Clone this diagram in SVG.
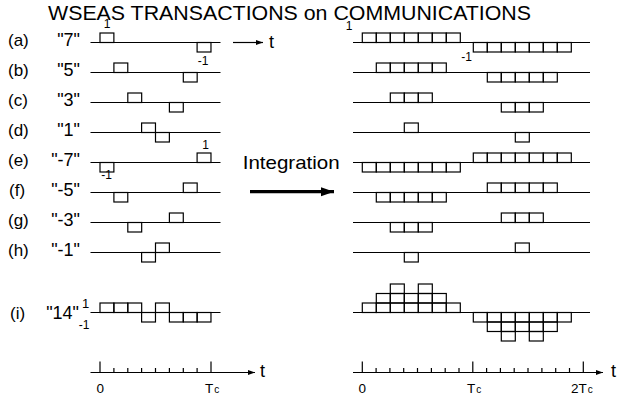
<svg xmlns="http://www.w3.org/2000/svg" xmlns:xlink="http://www.w3.org/1999/xlink" width="618" height="402" viewBox="0 0 618 402">
  <style>
    text { font-family: "Liberation Sans", Arial, sans-serif; fill: #000; }
    .title { font-size: 20px; }
    .lab { font-size: 17px; }
    .code { font-size: 18px; }
    .small { font-size: 12px; }
    .axl { font-size: 13.5px; }
    .sub { font-size: 10px; }
    .tt { font-size: 18px; }
    .line { stroke: #000; stroke-width: 1.2; fill: none; }
    .chip { fill: none; stroke: #000; stroke-width: 1.2; }
    .thick { stroke: #000; stroke-width: 3.3; fill: none; }
  </style>
  <defs>
    <!-- one chip box, left panel (8 chips per Tc) -->
    <rect id="chipL" class="chip" width="13.875" height="9.5"/>
    <!-- one chip box, right panel -->
    <rect id="chipR" class="chip" width="14" height="9.5"/>
    <marker id="ah" markerUnits="userSpaceOnUse" markerWidth="8" markerHeight="6" refX="7" refY="2.5" orient="auto">
      <path d="M0,0 L7,2.5 L0,5 z" fill="#000"/>
    </marker>
    <marker id="ahBig" markerUnits="userSpaceOnUse" markerWidth="14" markerHeight="10" refX="13" refY="4.5" orient="auto">
      <path d="M0,0 L13,4.5 L0,9 z" fill="#000"/>
    </marker>
  </defs>

  <rect width="618" height="402" fill="#fff"/>

  <text class="title" x="48" y="20" textLength="483" lengthAdjust="spacingAndGlyphs">WSEAS TRANSACTIONS on COMMUNICATIONS</text>

  <!-- row labels -->
  <g id="labels">
    <text class="lab" x="8" y="45.5">(a)</text>
    <text class="lab" x="8" y="75.5">(b)</text>
    <text class="lab" x="8" y="105.5">(c)</text>
    <text class="lab" x="8" y="135.5">(d)</text>
    <text class="lab" x="8" y="165.5">(e)</text>
    <text class="lab" x="9" y="195.5">(f)</text>
    <text class="lab" x="8" y="225.5">(g)</text>
    <text class="lab" x="8" y="255.5">(h)</text>
    <text class="lab" x="10" y="318.5">(i)</text>
    <g text-anchor="end">
      <text class="code" x="80" y="45.5">"7"</text>
      <text class="code" x="80" y="75.5">"5"</text>
      <text class="code" x="80" y="105.5">"3"</text>
      <text class="code" x="80" y="135.5">"1"</text>
      <text class="code" x="80" y="165.5">"-7"</text>
      <text class="code" x="80" y="195.5">"-5"</text>
      <text class="code" x="80" y="225.5">"-3"</text>
      <text class="code" x="80" y="255.5">"-1"</text>
      <text class="code" x="79" y="319">"14"</text>
    </g>
  </g>

  <!-- left panel: PPM chip patterns -->
  <g id="row-a-left">
    <line class="line" x1="90.5" y1="42.5" x2="220.5" y2="42.5"/>
    <use xlink:href="#chipL" x="100" y="33"/>
    <use xlink:href="#chipL" x="197.1" y="42.5"/>
    <text class="small" x="107" y="28" text-anchor="middle">1</text>
    <text class="small" x="203" y="65" text-anchor="middle">-1</text>
  </g>
  <g id="row-b-left">
    <line class="line" x1="90.5" y1="72.5" x2="220.5" y2="72.5"/>
    <use xlink:href="#chipL" x="113.9" y="63"/>
    <use xlink:href="#chipL" x="183.3" y="72.5"/>
  </g>
  <g id="row-c-left">
    <line class="line" x1="90.5" y1="102.5" x2="220.5" y2="102.5"/>
    <use xlink:href="#chipL" x="127.8" y="93"/>
    <use xlink:href="#chipL" x="169.4" y="102.5"/>
  </g>
  <g id="row-d-left">
    <line class="line" x1="90.5" y1="132.5" x2="220.5" y2="132.5"/>
    <use xlink:href="#chipL" x="141.6" y="123"/>
    <use xlink:href="#chipL" x="155.5" y="132.5"/>
  </g>
  <g id="row-e-left">
    <line class="line" x1="90.5" y1="162.5" x2="220.5" y2="162.5"/>
    <use xlink:href="#chipL" x="100" y="162.5"/>
    <use xlink:href="#chipL" x="197.1" y="153"/>
    <text class="small" x="205.5" y="149" text-anchor="middle">1</text>
    <text class="small" x="106.5" y="178.5" text-anchor="middle">-1</text>
  </g>
  <g id="row-f-left">
    <line class="line" x1="90.5" y1="192.5" x2="220.5" y2="192.5"/>
    <use xlink:href="#chipL" x="113.9" y="192.5"/>
    <use xlink:href="#chipL" x="183.3" y="183"/>
  </g>
  <g id="row-g-left">
    <line class="line" x1="90.5" y1="222.5" x2="220.5" y2="222.5"/>
    <use xlink:href="#chipL" x="127.8" y="222.5"/>
    <use xlink:href="#chipL" x="169.4" y="213"/>
  </g>
  <g id="row-h-left">
    <line class="line" x1="90.5" y1="252.5" x2="220.5" y2="252.5"/>
    <use xlink:href="#chipL" x="141.6" y="252.5"/>
    <use xlink:href="#chipL" x="155.5" y="243"/>
  </g>
  <g id="row-i-left">
    <line class="line" x1="90.5" y1="312.5" x2="220.5" y2="312.5"/>
    <use xlink:href="#chipL" x="100" y="303"/>
    <use xlink:href="#chipL" x="113.9" y="303"/>
    <use xlink:href="#chipL" x="127.8" y="303"/>
    <use xlink:href="#chipL" x="141.6" y="312.5"/>
    <use xlink:href="#chipL" x="155.5" y="303"/>
    <use xlink:href="#chipL" x="169.4" y="312.5"/>
    <use xlink:href="#chipL" x="183.3" y="312.5"/>
    <use xlink:href="#chipL" x="197.1" y="312.5"/>
    <text x="85.5" y="308" text-anchor="middle" style="font-size:13px">1</text>
    <text class="small" x="84" y="328.5" text-anchor="middle">-1</text>
  </g>

  <!-- right panel: integrated patterns -->
  <g id="row-a-right">
    <line class="line" x1="353" y1="42.5" x2="590" y2="42.5"/>
    <use xlink:href="#chipR" x="362.3" y="33"/><use xlink:href="#chipR" x="376.3" y="33"/><use xlink:href="#chipR" x="390.3" y="33"/><use xlink:href="#chipR" x="404.3" y="33"/><use xlink:href="#chipR" x="418.3" y="33"/><use xlink:href="#chipR" x="432.3" y="33"/><use xlink:href="#chipR" x="446.3" y="33"/>
    <use xlink:href="#chipR" x="473.3" y="42.5"/><use xlink:href="#chipR" x="487.3" y="42.5"/><use xlink:href="#chipR" x="501.3" y="42.5"/><use xlink:href="#chipR" x="515.3" y="42.5"/><use xlink:href="#chipR" x="529.3" y="42.5"/><use xlink:href="#chipR" x="543.3" y="42.5"/><use xlink:href="#chipR" x="557.3" y="42.5"/>
    <text class="small" x="349" y="30" text-anchor="middle">1</text>
    <text class="small" x="466.5" y="61" text-anchor="middle">-1</text>
  </g>
  <g id="row-b-right">
    <line class="line" x1="353" y1="72.5" x2="590" y2="72.5"/>
    <use xlink:href="#chipR" x="376.3" y="63"/><use xlink:href="#chipR" x="390.3" y="63"/><use xlink:href="#chipR" x="404.3" y="63"/><use xlink:href="#chipR" x="418.3" y="63"/><use xlink:href="#chipR" x="432.3" y="63"/>
    <use xlink:href="#chipR" x="487.3" y="72.5"/><use xlink:href="#chipR" x="501.3" y="72.5"/><use xlink:href="#chipR" x="515.3" y="72.5"/><use xlink:href="#chipR" x="529.3" y="72.5"/><use xlink:href="#chipR" x="543.3" y="72.5"/>
  </g>
  <g id="row-c-right">
    <line class="line" x1="353" y1="102.5" x2="590" y2="102.5"/>
    <use xlink:href="#chipR" x="390.3" y="93"/><use xlink:href="#chipR" x="404.3" y="93"/><use xlink:href="#chipR" x="418.3" y="93"/>
    <use xlink:href="#chipR" x="501.3" y="102.5"/><use xlink:href="#chipR" x="515.3" y="102.5"/><use xlink:href="#chipR" x="529.3" y="102.5"/>
  </g>
  <g id="row-d-right">
    <line class="line" x1="353" y1="132.5" x2="590" y2="132.5"/>
    <use xlink:href="#chipR" x="404.3" y="123"/>
    <use xlink:href="#chipR" x="515.3" y="132.5"/>
  </g>
  <g id="row-e-right">
    <line class="line" x1="353" y1="162.5" x2="590" y2="162.5"/>
    <use xlink:href="#chipR" x="362.3" y="162.5"/><use xlink:href="#chipR" x="376.3" y="162.5"/><use xlink:href="#chipR" x="390.3" y="162.5"/><use xlink:href="#chipR" x="404.3" y="162.5"/><use xlink:href="#chipR" x="418.3" y="162.5"/><use xlink:href="#chipR" x="432.3" y="162.5"/><use xlink:href="#chipR" x="446.3" y="162.5"/>
    <use xlink:href="#chipR" x="473.3" y="153"/><use xlink:href="#chipR" x="487.3" y="153"/><use xlink:href="#chipR" x="501.3" y="153"/><use xlink:href="#chipR" x="515.3" y="153"/><use xlink:href="#chipR" x="529.3" y="153"/><use xlink:href="#chipR" x="543.3" y="153"/><use xlink:href="#chipR" x="557.3" y="153"/>
  </g>
  <g id="row-f-right">
    <line class="line" x1="353" y1="192.5" x2="590" y2="192.5"/>
    <use xlink:href="#chipR" x="376.3" y="192.5"/><use xlink:href="#chipR" x="390.3" y="192.5"/><use xlink:href="#chipR" x="404.3" y="192.5"/><use xlink:href="#chipR" x="418.3" y="192.5"/><use xlink:href="#chipR" x="432.3" y="192.5"/>
    <use xlink:href="#chipR" x="487.3" y="183"/><use xlink:href="#chipR" x="501.3" y="183"/><use xlink:href="#chipR" x="515.3" y="183"/><use xlink:href="#chipR" x="529.3" y="183"/><use xlink:href="#chipR" x="543.3" y="183"/>
  </g>
  <g id="row-g-right">
    <line class="line" x1="353" y1="222.5" x2="590" y2="222.5"/>
    <use xlink:href="#chipR" x="390.3" y="222.5"/><use xlink:href="#chipR" x="404.3" y="222.5"/><use xlink:href="#chipR" x="418.3" y="222.5"/>
    <use xlink:href="#chipR" x="501.3" y="213"/><use xlink:href="#chipR" x="515.3" y="213"/><use xlink:href="#chipR" x="529.3" y="213"/>
  </g>
  <g id="row-h-right">
    <line class="line" x1="353" y1="252.5" x2="590" y2="252.5"/>
    <use xlink:href="#chipR" x="404.3" y="252.5"/>
    <use xlink:href="#chipR" x="515.3" y="243"/>
  </g>
  <g id="row-i-right">
    <line class="line" x1="353" y1="312.5" x2="590" y2="312.5"/>
    <!-- first period, stacked upward -->
    <use xlink:href="#chipR" x="362.3" y="303"/>
    <use xlink:href="#chipR" x="376.3" y="303"/><use xlink:href="#chipR" x="376.3" y="293.5"/>
    <use xlink:href="#chipR" x="390.3" y="303"/><use xlink:href="#chipR" x="390.3" y="293.5"/><use xlink:href="#chipR" x="390.3" y="284"/>
    <use xlink:href="#chipR" x="404.3" y="303"/><use xlink:href="#chipR" x="404.3" y="293.5"/>
    <use xlink:href="#chipR" x="418.3" y="303"/><use xlink:href="#chipR" x="418.3" y="293.5"/><use xlink:href="#chipR" x="418.3" y="284"/>
    <use xlink:href="#chipR" x="432.3" y="303"/><use xlink:href="#chipR" x="432.3" y="293.5"/>
    <use xlink:href="#chipR" x="446.3" y="303"/>
    <!-- second period, stacked downward -->
    <use xlink:href="#chipR" x="473.3" y="312.5"/>
    <use xlink:href="#chipR" x="487.3" y="312.5"/><use xlink:href="#chipR" x="487.3" y="322"/>
    <use xlink:href="#chipR" x="501.3" y="312.5"/><use xlink:href="#chipR" x="501.3" y="322"/><use xlink:href="#chipR" x="501.3" y="331.5"/>
    <use xlink:href="#chipR" x="515.3" y="312.5"/><use xlink:href="#chipR" x="515.3" y="322"/>
    <use xlink:href="#chipR" x="529.3" y="312.5"/><use xlink:href="#chipR" x="529.3" y="322"/><use xlink:href="#chipR" x="529.3" y="331.5"/>
    <use xlink:href="#chipR" x="543.3" y="312.5"/><use xlink:href="#chipR" x="543.3" y="322"/>
    <use xlink:href="#chipR" x="557.3" y="312.5"/>
  </g>

  <!-- time axes -->
  <g id="axis-left">
    <line class="line" x1="90.5" y1="372.5" x2="255" y2="372.5" marker-end="url(#ah)"/>
    <path class="line" d="M100,361.5V372.5 M211,361.5V372.5 M113.9,368V372.5 M127.8,368V372.5 M141.6,368V372.5 M155.5,368V372.5 M169.4,368V372.5 M183.3,368V372.5 M197.1,368V372.5"/>
    <text class="tt" x="260" y="377">t</text>
    <text class="axl" x="100.3" y="393" text-anchor="middle">0</text>
    <text class="axl" x="205" y="393">T<tspan class="sub" dx="1">c</tspan></text>
  </g>
  <g id="axis-right">
    <line class="line" x1="353" y1="372.5" x2="603" y2="372.5" marker-end="url(#ah)"/>
    <path class="line" d="M362.3,361.5V372.5 M472.8,361.5V372.5 M583.3,361.5V372.5 M376.1,368V372.5 M389.9,368V372.5 M403.7,368V372.5 M417.5,368V372.5 M431.4,368V372.5 M445.2,368V372.5 M459,368V372.5 M486.6,368V372.5 M500.4,368V372.5 M514.2,368V372.5 M528,368V372.5 M541.9,368V372.5 M555.7,368V372.5 M569.5,368V372.5"/>
    <text class="tt" x="611" y="377">t</text>
    <text class="axl" x="362.3" y="393" text-anchor="middle">0</text>
    <text class="axl" x="467" y="393">T<tspan class="sub" dx="1">c</tspan></text>
    <text class="axl" x="571" y="393">2T<tspan class="sub" dx="1">c</tspan></text>
  </g>

  <!-- connectors -->
  <g id="connectors">
    <line class="line" x1="233" y1="42.5" x2="263" y2="42.5" marker-end="url(#ah)"/>
    <text class="tt" x="269" y="48">t</text>
    <line class="thick" x1="250" y1="191.7" x2="334" y2="191.7" marker-end="url(#ahBig)"/>
    <text x="242.7" y="168.5" style="font-size:19px" textLength="97" lengthAdjust="spacingAndGlyphs">Integration</text>
  </g>
</svg>
